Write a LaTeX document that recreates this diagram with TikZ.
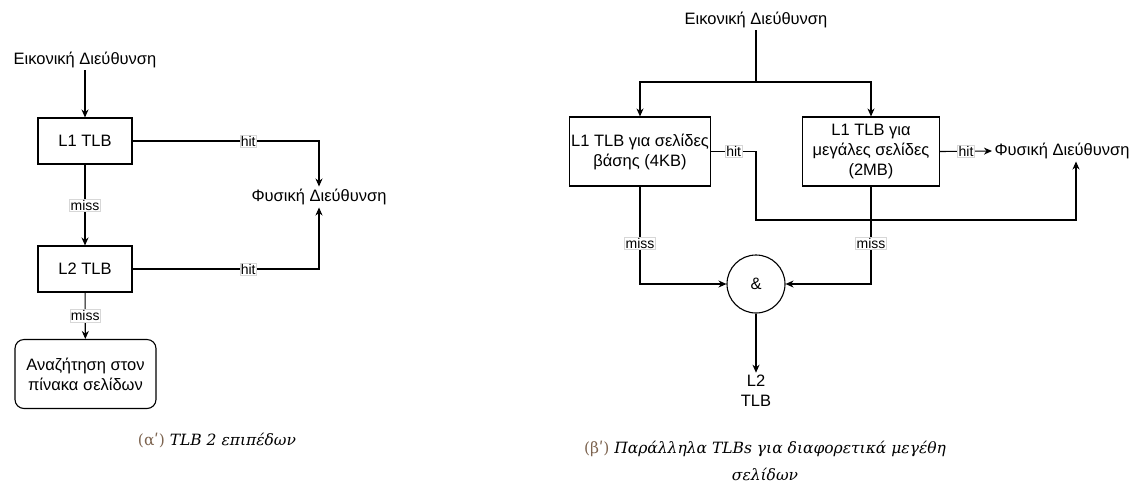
\documentclass[tikz,border=0pt]{standalone}
\usepackage{fontspec}
\setmainfont{Liberation Sans}
\newfontfamily\capfont{DejaVu Serif}
\usetikzlibrary{arrows.meta}
\definecolor{capbrown}{RGB}{125,100,80}
\definecolor{lblgray}{RGB}{215,215,215}
\begin{document}
\begin{tikzpicture}[x=1pt,y=-1pt,line width=1.1pt,
    >={Stealth[length=8pt,width=7pt,inset=2.5pt]},
    txt/.style={align=center,inner sep=2pt,font=\fontsize{16.5}{20}\selectfont},
    box/.style={txt,draw,minimum width=94pt,minimum height=46pt},
    lbl/.style={fill=white,draw=lblgray,line width=0.5pt,inner sep=1pt,font=\fontsize{14}{16}\selectfont},
    capt/.style={align=center,font=\capfont\fontsize{15.5}{27}\selectfont}]
    \useasboundingbox (0,0) rectangle (1134,491);
    % (a) two level TLB
    \node[txt] (virt) at (85,60) {Εικονική Διεύθυνση};
    \node[box] (l1) at (85,141) {L1 TLB};
    \node[box] (l2) at (85,269) {L2 TLB};
    \node[box,rounded corners=9pt,minimum width=141pt,minimum height=69pt] (lookup) at (85.5,374) {Αναζήτηση στον\\πίνακα σελίδων};
    \node[txt] (phys) at (319,197) {Φυσική Διεύθυνση};
    \draw[->] (virt) -- (l1);
    \draw[->] (l1) -- node[lbl]{miss} (l2);
    \draw[->] (l2) -- node[lbl]{miss} (lookup);
    \draw[->] (l1.east) -| node[lbl,pos=0.31]{hit} (phys.north);
    \draw[->] (l2.east) -| node[lbl,pos=0.31]{hit} (phys.south);
    \node[capt] (capa) at (217,440) {{\color{capbrown}(αʹ)} \textit{TLB 2 επιπέδων}};
    % (b) parallel TLBs
    \node[txt] (virtb) at (756,20) {Εικονική Διεύθυνση};
    \node[box,minimum width=139pt,minimum height=69pt] (base) at (640,151.5) {L1 TLB για σελίδες\\βάσης (4KB)};
    \node[box,minimum width=137pt,minimum height=69pt] (huge) at (871,151.5) {L1 TLB για\\μεγάλες σελίδες\\(2MB)};
    \node[txt] (physb) at (1062,151) {Φυσική Διεύθυνση};
    \node[txt,draw,circle,minimum size=58pt] (and) at (756,284) {\&};
    \node[txt] (ltwo) at (756,391) {L2\\TLB};
    \coordinate (split) at (756,82);
    \coordinate (bend) at (756,220);
    \coordinate (rise) at (1076,220);
    \draw (virtb) -- (split);
    \draw[->] (split) -| (base.north);
    \draw[->] (split) -| (huge.north);
    \draw[->] (huge.east) -- node[lbl]{hit} (physb.west);
    \draw[->] (base.east) -- node[lbl]{hit} (base.east -| bend) -- (bend) -- (rise) -- (rise |- physb.south);
    \draw[->] (base.south) |- node[lbl,pos=0.29]{miss} (and.west);
    \draw[->] (huge.south) |- node[lbl,pos=0.29]{miss} (and.east);
    \draw[->] (and) -- (ltwo);
    \node[capt] (capb) at (765,461) {{\color{capbrown}(βʹ)} \textit{Παράλληλα TLBs για διαφορετικά μεγέθη}\\\textit{σελίδων}};
\end{tikzpicture}
\end{document}
